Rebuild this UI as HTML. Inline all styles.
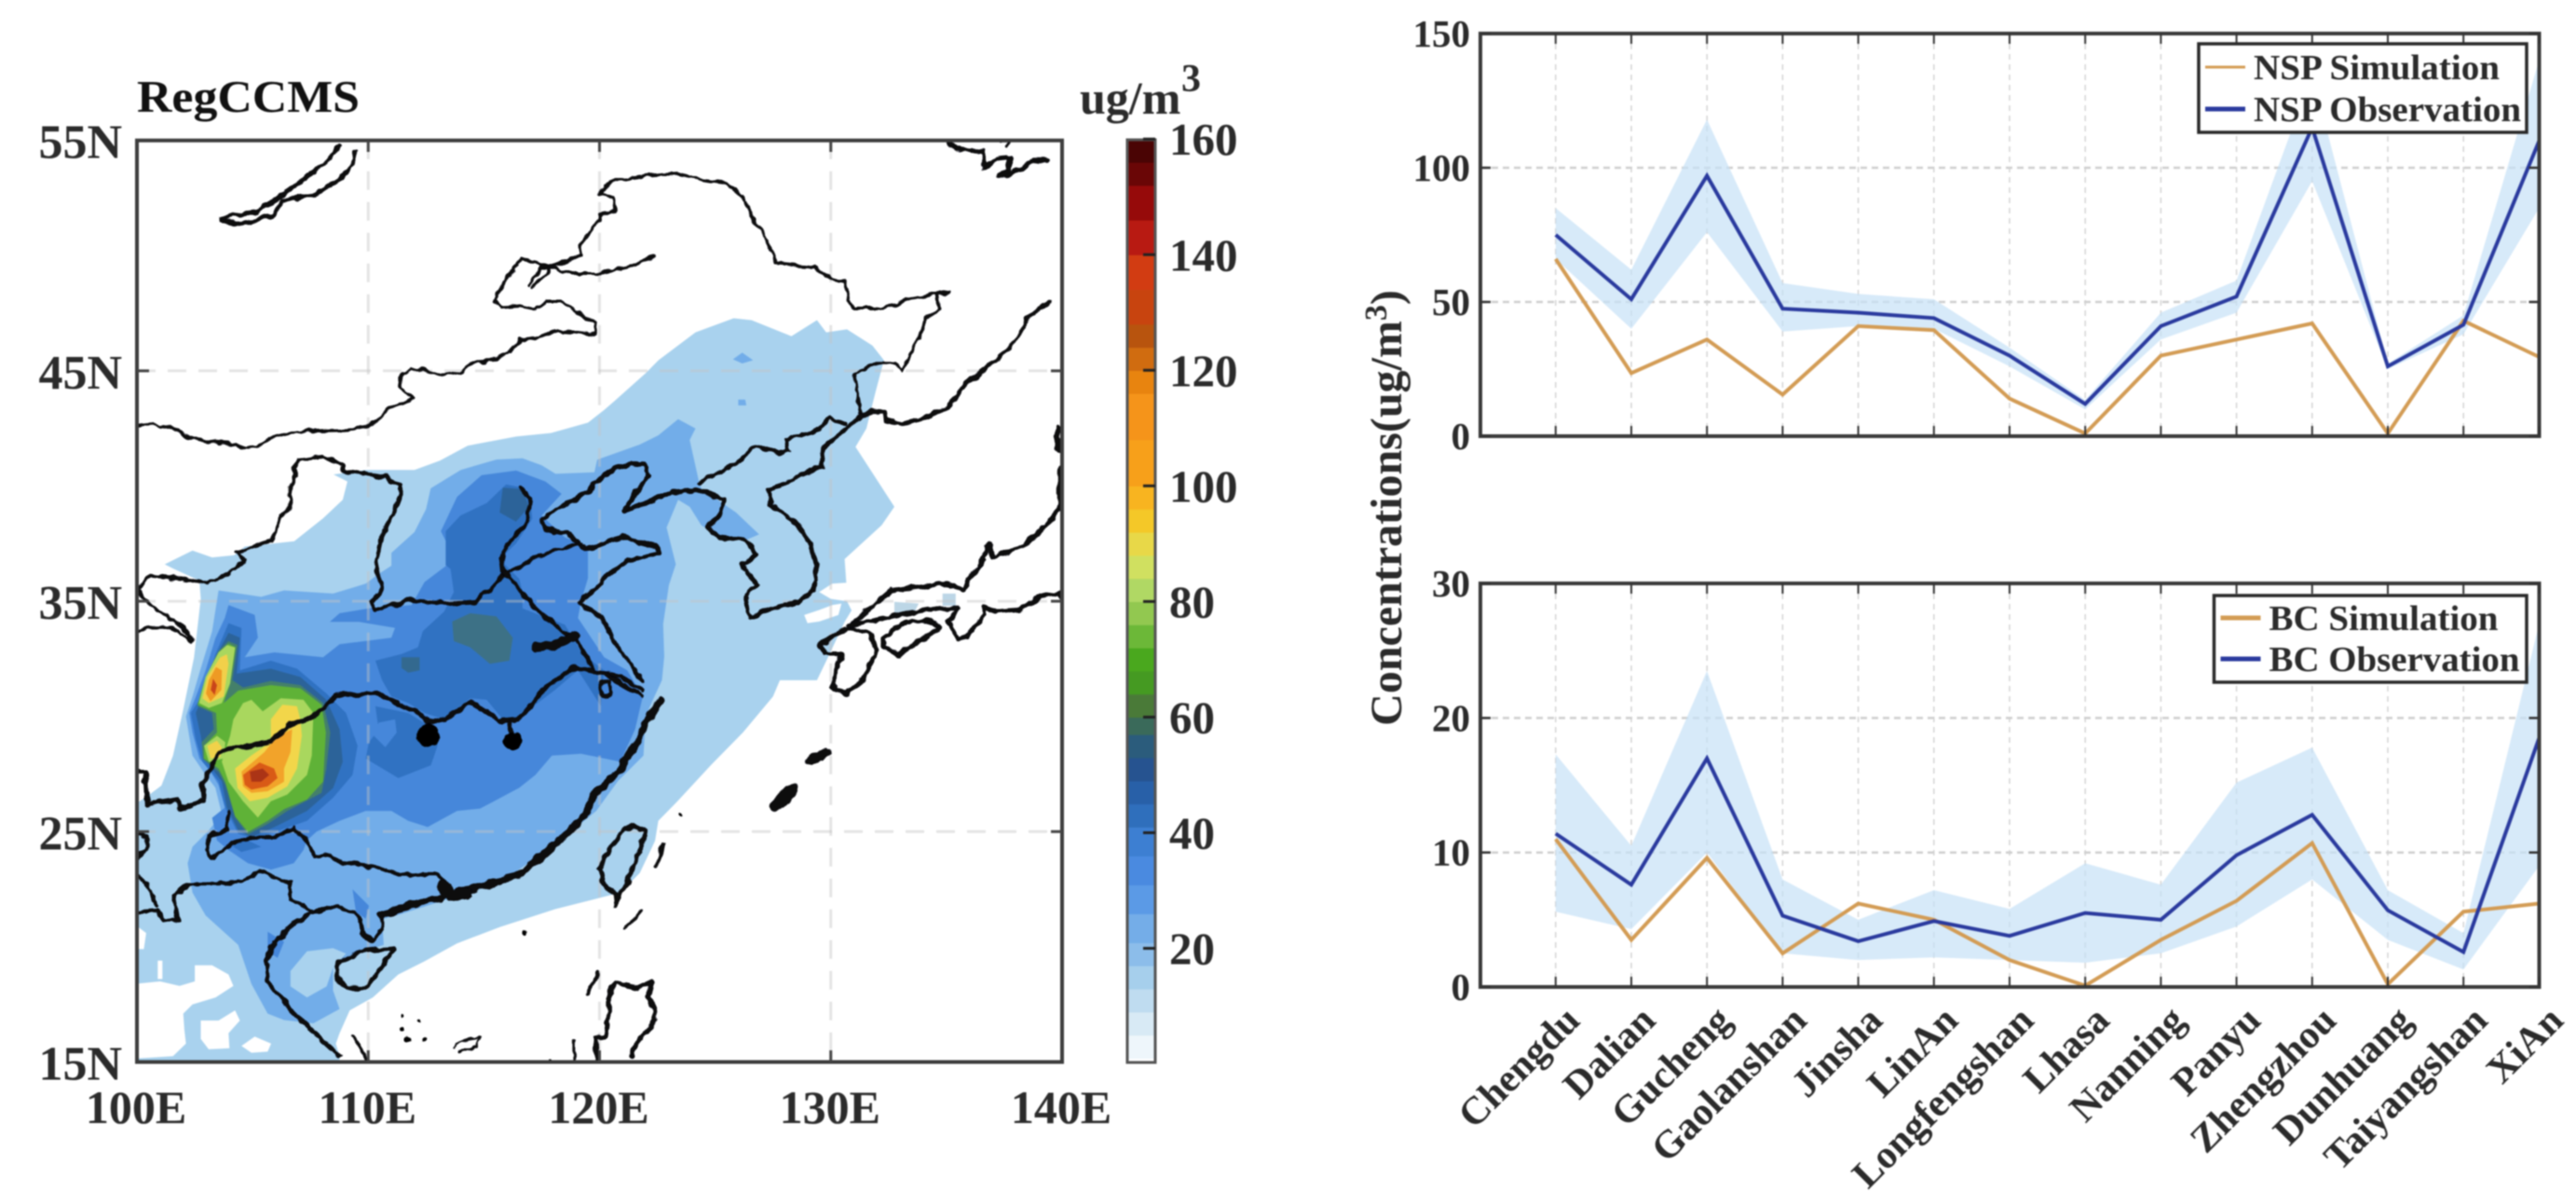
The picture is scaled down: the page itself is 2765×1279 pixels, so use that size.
<!DOCTYPE html>
<html><head><meta charset="utf-8"><title>RegCCMS concentrations</title>
<style>
html,body{margin:0;padding:0;background:#fff}
svg{display:block;filter:blur(0.9px)}
text{font-family:"Liberation Serif",serif;font-weight:bold;fill:#2b2b2b}
</style></head>
<body>
<svg id="fig" xmlns="http://www.w3.org/2000/svg" width="2765" height="1279" viewBox="0 0 2765 1279">
<rect width="2765" height="1279" fill="#fff"/>
<defs><clipPath id="mapClip"><rect x="147" y="150.7" width="993" height="988.8"/></clipPath>
<clipPath id="p1Clip"><rect x="1589" y="36" width="1137" height="432"/></clipPath>
<clipPath id="p2Clip"><rect x="1589" y="626" width="1137" height="433"/></clipPath>
<filter id="rough" filterUnits="userSpaceOnUse" x="130" y="130" width="1030" height="1030"><feTurbulence type="fractalNoise" baseFrequency="0.09" numOctaves="2" seed="3" result="n"/><feDisplacementMap in="SourceGraphic" in2="n" scale="7" xChannelSelector="R" yChannelSelector="G"/></filter></defs>
<g id="mapFills" clip-path="url(#mapClip)"></g>
<g id="mapGrid" clip-path="url(#mapClip)"></g>
<g clip-path="url(#mapClip)"><g id="mapCoast" filter="url(#rough)"></g></g>
<g id="mapAxes"></g>
<text x="147" y="120" font-size="49" textLength="239" lengthAdjust="spacingAndGlyphs" style="fill:#111">RegCCMS</text>
<g id="colorbar"></g>
<text x="1159" y="122" font-size="50">ug/m</text>
<text x="1268" y="98" font-size="42">3</text>
<g id="panel1"></g>
<g id="panel2"></g>
<text transform="translate(1504,545) rotate(-90)" text-anchor="middle" font-size="48">Concentrations(ug/m<tspan dy="-16" font-size="34">3</tspan><tspan dy="16">)</tspan></text>
</svg>
<script>
/* ---------- line chart data ---------- */
const categories = ['Chengdu','Dalian','Gucheng','Gaolanshan','Jinsha','LinAn','Longfengshan','Lhasa','Nanning','Panyu','Zhengzhou','Dunhuang','Taiyangshan','XiAn'];
const nspSimulation = [66,23.5,36,15.5,41,39.5,14,1,30,36,42,1,43,29.5];
const nspObservation = [75,51,97,47.5,46,44,30,12,41,52,115,26,41.5,110];
const nspUpper = [85,62,118,57,53,51,33,13.5,46,58,135,27,45,140];
const nspLower = [66,40,76,39,41,40,26,10,36,46,95,25,38,85];
const bcSimulation = [11,3.5,9.6,2.5,6.2,5,2,0.1,3.5,6.4,10.7,0.2,5.6,6.2];
const bcObservation = [11.4,7.6,17,5.3,3.4,4.9,3.8,5.5,5,9.8,12.8,5.7,2.6,18.5];
const bcUpper = [17.3,10.5,23.5,8,5,7.2,5.8,9.2,7.6,15.2,17.8,7.2,4,27];
const bcLower = [5.6,4.3,10,2.5,2,2.2,2,1.8,2.5,4.5,8,3.5,1.3,9];
const nspTicks = [0,50,100,150];
const bcTicks = [0,10,20,30];
/* ---------- map axis data ---------- */
const lonTicks = [100,110,120,130,140];
const latTicks = [15,25,35,45,55];
/* ---------- colorbar data ---------- */
const colorbarTicks = [20,40,60,80,100,120,140,160];
const colorbarLevels = [1,5,9,13,17,21,26,31,36,41,45,49,53,57,60,64,68,72,76,80,84,88,92,96,100,108,116,120,124,128,134,140,146,152,156,160];
const colorbarColors = ['#eef6fb','#d8eaf5','#bfdcf0','#a6cfec','#8cbdea','#74ade8','#5b9ae6','#4a8ae0','#3d7fd2','#2f6fbc','#2860a8','#265390','#2b5c7c','#3a6a5a','#4a7a38','#459a22','#4aa81e','#6cb838','#92c850','#b0d864','#d0e060','#e8d848','#f4c828','#f8b420','#f7a01a','#f5941a','#e8840f','#d06c10','#b8540e','#c8440f','#d23c12','#b81a12','#960a0a','#6a0606','#4a0404'];
/* ---------- contour polygons, flat lon,lat lists ---------- */
const level1 = [100,26.25,100.4,26.5,101.06,27,101.56,28.3,102,30.3,102.47,32.57,102.76,35.1,102.7,35.9,101.6,36.4,101.2,36.6,102.4,37.2,103.25,36.9,104.2,37,104.66,37.37,106.8,37.6,108.05,38.6,108.9,39.4,109.1,40.2,108.5,40.5,109.9,40.7,112,40.7,113.1,41.1,114.3,41.75,116.4,42.15,117.9,42.3,119.5,42.75,120.2,43.3,120.66,43.7,122,44.9,122.55,45.46,124.15,46.67,125.8,47.28,126.57,47.2,128.3,46.5,129.4,47.2,129.8,46.67,130.7,46.8,131.8,46.1,132.3,45.46,131.94,44.1,131.67,43.03,131.54,42.5,131.07,41.7,132.75,39.1,132.2,38.3,130.6,36.83,130.67,35.8,130.06,35.76,129.5,35.4,130,35.1,130.7,35,130.9,34.6,130.6,34.1,129.8,32.4,129.4,31.57,127.8,31.57,127.5,30.86,126.2,29.3,124.83,27.9,123.35,26.3,122.54,25.47,122.4,24.6,121.74,23.2,120.9,22.35,118.1,21.64,115.7,20.86,113.84,20.15,112.43,19.37,111.3,18.8,110.2,17.8,109.2,17.24,108.76,16.25,108.6,15.8,108.76,15.26,108.76,15,100,15];
const cleanA = [100,18.4,101,18.5,101.84,18.3,102.5,18.5,102.5,19.2,103.25,19.2,103.96,18.8,104.17,18.3,103.4,17.8,102.4,17.5,102,17.1,102.05,16.4,102.12,15.8,101.56,15.25,100,15.15];
const cleanB = [102.76,16.8,103.53,16.8,104.24,17.24,104.45,16.8,103.96,16.25,104,15.6,103.1,15.55,102.76,16];
const cleanC = [104.52,15.7,105.09,16.1,105.8,15.8,105.65,15.45,104.95,15.4];
const cleanD = [100.9,19.4,101.1,19.4,101.1,18.6,100.9,18.6];
const cleanE = [100,20.9,100.4,20.6,100.3,19.9,100,19.9];
const cleanStrait = [128.85,34.4,129.5,34.62,130.06,34.83,130.46,34.9,130.33,34.4,129.5,34.12,128.99,34.05];
const level2 = [103.53,35.47,105.37,35.19,106.36,35.47,108.48,35.33,109.89,35.76,110.45,36.18,111,36.54,111,37.1,112,38,112.5,39,112.7,39.9,114,40.7,115.54,41.15,116.67,41.2,117.5,40.9,118.1,40.53,119.78,40.6,119.9,41.14,121.74,41.8,122.54,42.2,123.4,42.9,124.15,42.5,123.9,42,124.3,40.2,124.4,39.9,125.1,39.4,125.9,38.85,126.9,37.9,126.3,37.64,125.2,37.77,124.4,38.3,123.9,39.1,123.4,39.4,122.9,38.2,123.3,36.6,123,35.7,122.75,34,122.8,32.6,122.7,31.57,122.3,30.7,122,30,121.9,28.3,120.8,27.2,119.86,25.9,119.5,25.6,117.94,24.34,115.68,22.78,113.84,22.2,111.44,21.43,110.6,21.2,110.67,20.08,109.32,19.66,108.48,19.1,108.48,18.1,108.76,17.3,107.63,16.68,106.36,16.82,105.65,17.1,104.95,18.38,104.38,20.08,102.97,21.36,102.4,22.35,102.19,23.63,102.4,24.34,103.1,25.05,103.67,25.76,103.39,26.9,102.97,27.46,102.4,28.3,102.12,30,102.4,30.86,102.69,31.86,103.25,33.7];
const level2Gap = [106.64,18.95,107.35,19.8,108.48,19.94,109.04,19.7,108.48,19.1,108.2,18.28,107.35,17.8,106.64,18.28];
const level2SpotA = [125.77,45.5,126.17,45.79,126.64,45.46,126.17,45.32];
const level2SpotB = [126,43.75,126.3,43.75,126.35,43.5,126,43.5];
const level1JapanA = [134.83,35.33,135.4,35.33,135.4,34.8,134.83,34.8];
const level1JapanB = [132.75,34.97,133.8,34.9,133.6,34.5,132.75,34.5];
const level3 = [113.75,36.83,113.14,38.04,113.84,39.53,114.9,40.47,116.4,40.67,117.66,40.2,118.36,39.66,117.5,38.72,118.5,37.77,119.5,37.37,119.5,36,119.2,34.98,119.07,34.27,120.2,32.57,121.2,32,121.87,30.86,121.54,29.44,120.9,28.03,119.2,28.38,117.94,28.3,117.23,27.46,116.53,26.9,115.4,26.3,114.83,26,113.84,25.9,112.57,25.2,111.73,25.47,111,25.9,109.89,25.9,108.76,25.47,107.77,25,107.35,24.62,107.2,24.2,106.78,23.63,105.8,23.35,104.8,23.63,103.96,24.2,103.46,24.62,103.25,25.6,103.8,26.04,103.53,27.03,103.1,27.74,102.7,28.17,102.4,29.3,102.26,30.15,102.55,30.86,102.97,32,103.39,33.4,103.8,34.27,103.96,34.83,105.09,34.41,105.23,33.42,104.66,32.57,105.94,32.78,108.05,32.57,108.76,33.13,111,33.42,111.16,33.84,109.6,34.1,108.34,34.1,108.76,34.48,110.03,34.69,111.87,34.83,112.43,35.83];
const level3Gap = [114.83,31,115.54,31.2,116.25,30.58,116.1,30.15,115.4,30.58];
const level3Vietnam = [105.65,20.65,106.36,20.22,106.08,19.52,105.65,19.8];
const level3Guangxi = [109.32,22.49,110.03,21.78,109.89,21.22,109.47,21.5];
const level4Main = [113.35,36.56,113.35,38.04,113.99,38.72,115.12,39.26,115.96,40.07,116.67,39.93,117.02,39.39,117.09,38.58,116.39,37.51,115.68,36.82,116.53,35.97,116.67,35.4,116.67,34.69,118.5,33.98,119.28,32.7,120.2,32,120.06,30.44,119.07,32,118.08,31.15,116.39,29.87,115.82,29.87,115.12,30.72,114.41,30.79,113.28,29.87,112.43,30.15,111.73,30.58,111,30.86,110.6,31.57,110.31,32.42,111.44,32.71,112.15,33,112.36,33.7,113.28,34.55,113.7,35.4,113.56,36.4];
const level4South = [110.31,30.44,111.73,30.15,112.86,29.44,113,28.73,112.71,27.88,111.3,27.32,109.89,28.17,110.03,28.88,110.45,29.44];
const level4SouthGap = [110.45,29.73,111.16,29.87,111.23,29.3,110.74,28.66,110.24,29.16];
const level4Border = [103.96,24.48,104.66,24.69,105.37,24.34,104.52,24.12];
const level5North = [115.82,39.93,116.67,39.87,116.95,39.1,116.39,38.45,115.68,38.85];
const level5Center = [113.63,34.12,114.41,34.48,115.54,34.34,116.25,33.42,116.1,32.42,115.26,32.28,114.41,33,113.7,33.27];
const level5Spot = [111.44,32.57,112.22,32.57,112.22,32,111.73,31.9,111.44,32.1];
const blobRing1 = [103.96,34.05,104.52,33.84,104.45,32,105.79,32.42,106.92,32.07,108.19,31,109.04,30.15,109.54,28.73,109.32,27.46,108.48,26.47,107.35,25.47,106.36,25.12,105.09,24.69,104.38,24.9,103.82,26.04,103.53,27.18,102.83,28.03,102.54,29,102.33,30.15,102.97,31.15,103.39,32.7];
const blobRing2 = [103.96,33.63,104.45,33.42,104.31,31.86,105.79,32.07,107.06,31.71,108.19,30.72,108.76,29.44,108.9,28.03,108.48,26.89,107.35,25.9,105.93,25.19,104.95,24.76,104.38,25.05,103.89,26.04,103.67,27.18,102.9,28.17,102.76,29.16,102.54,30.15,102.97,31.15,103.46,32.7];
const blobRing3 = [103.96,33.27,104.35,33.1,104.13,31.57,104.59,31.26,105.79,31.54,107.06,31.36,108.05,30.58,108.36,29.3,108.19,27.74,107.98,26.68,106.5,25.9,105.65,25.33,104.8,24.88,104.24,25.61,103.82,27.03,103.53,27.6,102.86,28.14,102.8,28.88,103.32,29.44,103.25,30.15,102.62,30.44,102.97,31.7,103.53,32.85];
const blobGreen = [103.96,33.16,104.27,33,104.03,31.43,103.75,30.58,104.38,31.12,105.79,31.36,107.06,31.22,107.98,30.51,108.17,29.3,108.05,27.17,107.35,26.39,106.36,25.97,105.65,25.47,104.8,24.98,104.24,25.67,103.82,27.17,103.53,27.74,102.9,28.17,102.9,28.73,103.46,29.3,103.42,30.15,102.62,30.51,102.97,31.71,103.53,32.78];
const blobLight = [104.59,30.58,104.95,30.72,105.44,30.22,106.22,30.79,107.2,30.72,107.63,30.15,107.56,28.31,107.35,27.46,106.5,26.61,105.79,26.32,105.23,25.61,104.59,26.32,103.96,27.17,103.67,28.03,104.03,29.16,104.17,29.87];
const blobYellow = [105.79,29.87,106.29,30.51,106.92,30.44,107.06,29.87,107.13,29.16,106.92,27.74,106.5,26.96,105.65,26.47,104.88,26.32,104.35,26.89,104.24,27.74,104.95,28.31,105.79,28.88];
const blobOrange = [104.52,27.6,105.51,28.45,106.08,29.16,106.71,29.44,106.64,28.45,106.36,27.74,106.36,27.17,105.65,26.75,104.95,26.68,104.59,26.96];
const blobRed = [104.59,27.46,105.3,28,105.93,27.74,106.08,27.32,105.65,26.96,104.95,26.82,104.66,27.03];
const blobDark = [104.88,27.6,105.44,27.74,105.72,27.46,105.37,27.17,104.95,27.17];
const spikeLight = [103.89,33.1,104.24,32.99,104.03,31.43,103.67,30.58,103.11,30.37,102.69,30.58,102.97,31.71,103.53,32.78];
const spikeYellow = [103.6,32.56,103.89,32.7,103.96,32.28,103.75,30.86,103.11,30.58,102.83,30.79,103.04,31.71];
const spikeOrange = [103.42,32.14,103.67,32,103.65,31.15,103.18,30.65,102.98,31,103.11,31.57];
const spikeRed = [103.29,31.64,103.46,31.36,103.36,30.93,103.19,31.15];
const patchLight = [102.9,28.73,103.46,29.16,103.82,28.88,103.75,28.17,103.11,28.03];
const patchYellow = [103.04,28.73,103.46,28.95,103.67,28.66,103.6,28.24,103.18,28.17];
/* ---------- coast and border polylines, flat lon,lat lists ---------- */
const baikal = [108.76,54.76,108.19,54.08,107.35,53.41,106.22,52.6,105.23,51.9,104.1,51.76,103.6,51.59,104.24,51.39,105.37,51.59,105.93,51.79,106.29,52.4,107.77,52.67,108.76,53.34,109.32,53.95,109.47,54.49];
const mongoliaBorder = [100,42.63,100.71,42.7,101.56,42.5,102.12,42.16,103.11,41.9,104.24,41.82,104.66,41.6,105.16,41.68,105.79,42.09,106.92,42.38,108.76,42.42,109.61,42.49,110.31,42.76,110.88,43.3,111.94,43.77,111.73,43.97,111.37,44.31,111.51,44.85,111.87,45.08,112.43,45.05,113.07,44.78,113.99,44.92,114.55,45.39,115.4,45.43,116.1,45.8,116.6,46.33,117.38,46.47,118.08,46.74,119.78,46.6,119.85,47,119.21,47.48,118.36,48.02,117.66,48.02,117.23,47.68,116.53,47.82,115.82,47.75,115.47,48.08,115.82,48.83,116.67,49.88,117.66,49.57,118.65,49.23,119.86,49.23,120.67,49.37,121.6,49.63,122.34,49.97];
const hulunLake = [117.09,48.62,117.73,49.3,117.87,49.5,117.5,49.5,116.95,48.75];
const russiaBorder = [117.87,49.5,119.21,50.04,119.14,50.38,119.49,50.85,120.06,51.72,120.69,52,120.62,52.53,119.99,52.67,120.2,53,120.8,53.27,122.14,53.48,123.35,53.57,124.42,53.27,125.5,53.14,126.17,52.6,126.57,51.79,127.11,50.85,127.51,50.04,127.65,49.64,129.26,49.5,130.2,48.9,130.67,48.83,130.73,48.08,131,47.72,132.34,47.72,133.42,48.15,135.1,48.45,134.62,48.29,134.69,47.68,134.16,47.34,133.82,46.4,133.08,45.05,132.75,45.32,131.94,45.32,131,44.85,131.27,43.3,131.27,43.03];
const russiaCoast = [131.27,43.03,131.8,43.23,132.28,43.23,132.34,42.83,133.08,42.7,134.09,42.96,135.03,43.44,135.83,44.45,137.31,45.59,138.05,46.4,138.45,47.2,139.46,48.02];
const yaluBorder = [130.6,42.69,129.93,42.96,129.52,42.42,128.05,42.02,128.18,41.55,127.78,41.41,126.97,41.68,126.57,41.68,126.17,41.14,125.23,40.61,124.29,40.13];
const koreaEast = [131.27,43.03,130.6,42.42,129.66,41.68,129.59,40.87,128.45,40.34,127.31,39.8,127.38,39.19,128.45,38.45,129.12,37.5,129.39,36.56,129.39,36.25,129.26,35.47,128.59,34.98,127.38,34.69,126.5,34.27,126.3,35.26,126.77,35.76,126.17,36.56,126.77,37.03,126.3,37.64,125.23,37.77,124.69,38.18,125.16,38.72,125.36,39.39,124.42,39.8,123.08,39.73,122.14,39.32,121.07,38.92];
const bohaiCoast = [121.07,38.92,121.34,39.39,122.14,40.47,121.94,40.94,121.34,41,120.67,40.74,119.86,40.2,119.5,39.8,118.22,38.99,117.52,38.58,117.66,38.18,118.65,37.91,119.42,37.24,120.3,37.6,120.93,37.77,122.41,37.37,122.54,37.1,121.07,36.7,120.34,36.11,119.14,34.9,120.06,34.34,120.9,32.85,121.87,31.57];
const yellowRiverEast = [116.6,39.93,117.02,39.39,116.88,38.45,115.96,37.37,115.75,36.56,115.96,36.18,115.12,35.4,114.69,34.98,113.28,34.9,111.73,35.05,111,34.83,110.31,34.62,110.17,34.98,110.6,35.54,110.31,36.54,110.6,37.91,111,38.72,111.37,39.53,111.37,40.07,110.74,40.4,108.9,40.67];
const hetaoLoop = [108.9,40.67,108.9,40.94,108.05,41.28,107.06,41.14,106.78,40.8,106.92,40.54,106.64,39.93,106.64,39.12,106.15,38.58,105.93,37.91,105.79,37.64,104.31,37.1,104.66,36.82,103.96,36.18,103.11,35.76,101.98,35.97,100.57,36.11,100,35.54,100.57,34.83,101.56,34.2,102.26,33.56,102.4,33.27,101.41,33.9,100.71,33.9,100,33.7];
const riverMouth = [115.96,36.18,117.4,37,119.2,37.5];
const grandCanal = [115.96,36.18,117.52,34.41,118.36,33.77,119.07,33.2,119.78,32,120.9,31.7,121.87,31.15];
const yangtze = [100,27.6,100.36,27.6,100.43,26.18,101.77,26.4,101.84,25.97,102.9,26.4,102.83,27.03,103.11,27.6,103.53,28.45,103.96,28.59,105.79,28.88,106.5,29.59,107.63,30,108.27,30.58,108.62,30.93,110.45,31,111.44,30.44,112.15,30.22,112.57,29.73,113.28,29.87,114.41,30.65,115.68,29.8,116.53,29.87,117.52,31.15,118.93,32.14,120.2,31.85,121.87,30.86];
const poyangLink = [116.1,29.73,116.25,28.9];
const taihuLake = [120,31.4,120.4,31.5,120.5,31,120.1,30.9,120,31.4];
const xiRiver = [103.96,25.83,103.89,25.12,103.11,24.76,103.04,24.2,103.25,23.84,104.1,24.48,105.09,24.76,105.93,24.76,106.78,25.12,107.35,24.62,107.7,23.91,108.34,23.98,108.9,23.63,110.17,23.49,111.44,23.13,113,23.13,113.49,22.64];
const southBorder = [100,21.5,100.85,21.57,101.2,21.15,101.77,21.15,101.56,22.21,102.33,22.71,103.53,22.71,104.52,22.85,105.3,23.27,106.64,22.78,106.64,22.07,107.63,21.5,108.62,21.78,109.61,21.36];
const vietnamCoast = [107.63,21.5,106.78,21,105.93,20.22,105.58,19.37,105.65,18.52,106.78,17.1,108.76,15.26];
const leftBorderA = [100,24.83,100.43,24.76,100.43,24.2,100,23.8];
const leftBorderB = [100,23.2,100.43,22.64,100.85,21.79];
const leizhou = [109.61,21.36,109.75,20.65,110.17,20.22,110.6,20.79,110.6,21.36];
const southCoast = [110.6,21.36,111.73,21.79,113.28,22.21,115.68,22.85,116.67,23.2,117.94,24.34,119.21,25.47,119.78,26.61,120.93,27.74,121.6,28.88,122.14,30,122.68,30.72];
const pearlDelta = [113.2,22.7,113.6,22.2,114.2,22.3];
const hainan = [108.76,19.37,109.61,19.8,111.16,19.94,110.45,18.95,109.89,18.24,109.04,18.24,108.62,18.66,108.76,19.37];
const taiwan = [121.47,25.26,121.94,25.05,121.87,24.48,121.47,23.5,121.2,22.78,120.8,22.21,120.73,21.78,120.67,22.28,120.13,22.78,120,23.34,120.4,24.2,121.07,25.12,121.47,25.26];
const hongzeLake = [117.23,32.99,118.08,33.1,118.93,33.49];
const ryukyuNorth = [129.12,28.1,129.79,28.45];
const ryukyuSouth = [127.62,26.11,128.32,26.82];
const islandEast = [122.75,24.48,122.48,23.5];
const islandSouth = [121.8,21.57,121.14,20.79];
const islandScs = [119.92,18.88,119.5,17.96];
const spratly = [113.7,15.54,113.84,15.82,114.41,15.97,114.83,16.11,114.69,15.69,114.27,15.54,113.99,15.4];
const luzonA = [121.4,15.26,121.6,15.83,122.41,16.82,122.41,17.24,122.14,17.81,122.28,18.45,121.6,18.24,120.67,18.45,120.4,17.81,120.4,16.96,120.26,16.11,119.86,16.04,119.92,15];
const luzonB = [118.93,15.97,118.93,15];
const stubSouth = [109.32,16.11,110.03,15];
const kyushu = [129.52,33.13,130.73,33.84,131.67,33.63,131.94,32.85,131.4,31.57,130.67,31,130.13,31.22,130.2,32,130.46,32.7,129.79,32.7,129.52,33.13];
const honshuNorth = [130.87,33.98,132.61,35.47,135.03,35.76,135.77,35.47,135.97,35.97,136.64,36.82];
const honshuSouth = [130.87,33.98,133.28,34.48,134.62,34.69,135.5,34.69,135.1,34.12,135.5,33.42,135.83,33.42,136.64,34.41,136.64,34.83,137.11,34.55,138.11,34.62,138.79,34.98,139.05,35.19,139.86,35.33,140,35.12];
const shikoku = [132.28,33.42,133.28,34.12,134.49,34.12,134.69,33.84,133.95,33.35,132.95,32.7,132.28,32.99,132.28,33.42];
const honshuUpper = [136.37,36.56,136.84,37.44,137.04,36.9,138.38,37.44,139.32,38.31,139.86,38.99,140,39.5];
const hokkaidoEdgeA = [139.85,42.5,139.75,42.1,139.9,41.6];
const hokkaidoEdgeB = [139.95,40.7,139.95,39.2];
const sakhalin = [135.1,54.96,135.43,54.62,136.64,54.55,136.64,53.81,137.17,54.22,137.78,54.28,137.65,53.75,137.31,53.47,138.25,53.75,138.72,54.15,139.39,54.15];
const sakhalinLoop = [137.3,55,137.85,55,137.6,54.7];
/* ---------- lakes and dots: lon, lat, radius in degrees ---------- */
const lakeLon = [112.57,116.25,116.74,111.44,112.22,111.44,111.72,112.43,123.48,117.8];
const lakeLat = [29.16,28.88,20.65,17.03,16.82,16.39,16.04,15.97,25.76,15.05];
const lakeRadius = [0.5,0.42,0.13,0.08,0.06,0.12,0.12,0.09,0.1,0.1];

const NS = 'http://www.w3.org/2000/svg';
function make(tag, attrs, parent){
  const el = document.createElementNS(NS, tag);
  for (const k in attrs) el.setAttribute(k, attrs[k]);
  parent.appendChild(el);
  return el;
}
/* axis functions */
const lonX = lon => 147 + 24.825 * (lon - 100);
const latY = lat => 150.7 + 24.72 * (55 - lat);
const cbY = v => 1141.6 - 6.2025 * v;
const siteX = i => 1669.8 + 81.2 * i;
const nspY = v => 468 - 2.88 * v;
const bcY = v => 1059 - 14.43 * v;

function geoPath(flat, close){
  let d = '';
  for (let i = 0; i < flat.length; i += 2) {
    d += (i ? 'L' : 'M') + lonX(flat[i]).toFixed(1) + ' ' + latY(flat[i + 1]).toFixed(1);
  }
  return d + (close ? 'Z' : '');
}

/* ---------- map fills ---------- */
const C1 = '#a9d2ee', C2 = '#72ade9', C3 = '#4687da', C4 = '#3072c2', C5 = '#2c6399';
const fillNames = ['level-1','clean-a','clean-b','clean-c','clean-d','clean-e','clean-strait','japan-a','japan-b','level-2','level-2-gap','level-2-spot-a','level-2-spot-b','level-3','level-3-gap','level-3-vietnam','level-3-guangxi','level-4-main','level-4-south','level-4-south-gap','level-4-border','level-5-north','level-5-center','level-5-spot','blob-ring-1','blob-ring-2','blob-ring-3','blob-green','patch-light','patch-yellow','blob-light','blob-yellow','blob-orange','blob-red','blob-dark','spike-light','spike-yellow','spike-orange','spike-red'];
const fillShapes = [level1,cleanA,cleanB,cleanC,cleanD,cleanE,cleanStrait,level1JapanA,level1JapanB,level2,level2Gap,level2SpotA,level2SpotB,level3,level3Gap,level3Vietnam,level3Guangxi,level4Main,level4South,level4SouthGap,level4Border,level5North,level5Center,level5Spot,blobRing1,blobRing2,blobRing3,blobGreen,patchLight,patchYellow,blobLight,blobYellow,blobOrange,blobRed,blobDark,spikeLight,spikeYellow,spikeOrange,spikeRed];
const fillColors = [C1,'#fff','#fff','#fff','#fff','#fff','#fff','#bcd6e6','#bcd6e6',C2,C1,C2,C2,C3,C2,C3,C3,C4,C4,C3,C4,C5,'#3d7186','#33698f',C4,C5,'#44806a','#5fb237','#a9d75e','#f0d24a','#a9d75e','#f2d64a','#f2a32a','#d95a16','#ab3416','#a9d75e','#f2d04a','#ee9a24','#c9451a'];
const fillGroup = document.getElementById('mapFills');
fillShapes.forEach(function(shape, i){
  const el = make('path', {d: geoPath(shape, true), fill: fillColors[i]}, fillGroup);
  
  
});

/* ---------- map gridlines ---------- */
const gridGroup = document.getElementById('mapGrid');
lonTicks.slice(1, -1).forEach(function(lon){
  const el = make('line', {x1: lonX(lon), x2: lonX(lon), y1: latY(55), y2: latY(15), stroke: '#c4c4c4', 'stroke-opacity': .45, 'stroke-width': 3, 'stroke-dasharray': '20 13'}, gridGroup);
  
  
});
latTicks.slice(1, -1).forEach(function(lat){
  const el = make('line', {x1: lonX(100), x2: lonX(140), y1: latY(lat), y2: latY(lat), stroke: '#c4c4c4', 'stroke-opacity': .45, 'stroke-width': 3, 'stroke-dasharray': '20 13'}, gridGroup);
  
  
});

/* ---------- coast lines ---------- */
const lineNames = ['baikal','mongolia-border','hulun-lake','russia-border','russia-coast','yalu-border','korea-coast','bohai-coast','yellow-river','hetao-loop','river-mouth','grand-canal','yangtze','poyang-link','taihu-lake','xi-river','south-border','vietnam-coast','left-border-a','left-border-b','leizhou','south-coast','pearl-delta','hainan','taiwan','hongze-lake','ryukyu-north','ryukyu-south','island-east','island-south','island-scs','spratly','luzon-a','luzon-b','stub-south','kyushu','honshu-north','honshu-south','shikoku','honshu-upper','hokkaido-edge-a','hokkaido-edge-b','sakhalin','sakhalin-loop'];
const lineShapes = [baikal,mongoliaBorder,hulunLake,russiaBorder,russiaCoast,yaluBorder,koreaEast,bohaiCoast,yellowRiverEast,hetaoLoop,riverMouth,grandCanal,yangtze,poyangLink,taihuLake,xiRiver,southBorder,vietnamCoast,leftBorderA,leftBorderB,leizhou,southCoast,pearlDelta,hainan,taiwan,hongzeLake,ryukyuNorth,ryukyuSouth,islandEast,islandSouth,islandScs,spratly,luzonA,luzonB,stubSouth,kyushu,honshuNorth,honshuSouth,shikoku,honshuUpper,hokkaidoEdgeA,hokkaidoEdgeB,sakhalin,sakhalinLoop];
const lineWidths = [5,3.5,3.5,3.5,5,4.5,5,5,4.5,4,4,4.5,5,5,4,4.5,4.5,5,4,4,4.5,8,12,5,5,10,10,14,4,4,4,2.5,5,3,4,5,5,5,5,5,7,8,5,3];
const coastGroup = document.getElementById('mapCoast');
lineShapes.forEach(function(shape, i){
  const el = make('path', {d: geoPath(shape, false), fill: 'none', stroke: '#07070f', 'stroke-width': lineWidths[i], 'stroke-linejoin': 'round', 'stroke-linecap': 'round'}, coastGroup);
  
  
});
lakeRadius.forEach(function(r, i){
  const el = make('circle', {cx: lonX(lakeLon[i]), cy: latY(lakeLat[i]), r: r * 24.8, fill: '#050505'}, coastGroup);
  
  
});

/* ---------- map axes ---------- */
const axesGroup = document.getElementById('mapAxes');
const mapFrame = make('rect', {x: 147, y: 150.7, width: 993, height: 988.8, fill: 'none', stroke: '#3c3c3c', 'stroke-width': 4}, axesGroup);


lonTicks.forEach(function(lon){
  const label = make('text', {x: lonX(lon) - 1, y: 1205, 'text-anchor': 'middle', 'font-size': 50}, axesGroup);
  label.textContent = lon + 'E';
  
  
});
latTicks.forEach(function(lat){
  const label = make('text', {x: 131, y: latY(lat) + 19, 'text-anchor': 'end', 'font-size': 52}, axesGroup);
  label.textContent = lat + 'N';
  
  
});
latTicks.slice(1, -1).forEach(function(lat){
  [[147, 160], [1128, 1140]].forEach(function(pair){
    const tick = make('line', {x1: pair[0], x2: pair[1], y1: latY(lat), y2: latY(lat), stroke: '#444', 'stroke-width': 3}, axesGroup);
    
    
  });
});
lonTicks.slice(1, -1).forEach(function(lon){
  [[150.7, 163], [1127, 1139.5]].forEach(function(pair){
    const tick = make('line', {x1: lonX(lon), x2: lonX(lon), y1: pair[0], y2: pair[1], stroke: '#444', 'stroke-width': 3}, axesGroup);
    
    
  });
});

/* ---------- colorbar ---------- */
const cbGroup = document.getElementById('colorbar');
colorbarColors.forEach(function(color, i){
  const top = cbY(colorbarLevels[i + 1]);
  const bottom = cbY(colorbarLevels[i]);
  const band = make('rect', {x: 1210, y: top, width: 30, height: bottom - top + .6, fill: color}, cbGroup);
  
  
});
const cbFrame = make('rect', {x: 1210, y: 150, width: 30, height: 990, fill: 'none', stroke: '#555', 'stroke-width': 3}, cbGroup);


colorbarTicks.forEach(function(v){
  const tick = make('line', {x1: 1227, x2: 1240, y1: cbY(v), y2: cbY(v), stroke: '#222', 'stroke-width': 3}, cbGroup);
  
  
  const label = make('text', {x: 1255, y: cbY(v) + 17, 'font-size': 49}, cbGroup);
  label.textContent = v;
  
  
});

/* ---------- line panels ---------- */
function linePath(values, yFn){
  return values.map(function(v, i){ return (i ? 'L' : 'M') + siteX(i).toFixed(1) + ' ' + yFn(v).toFixed(1); }).join('');
}
function bandPath(upper, lower, yFn){
  let d = linePath(upper, yFn);
  for (let i = lower.length - 1; i >= 0; i--) d += 'L' + siteX(i).toFixed(1) + ' ' + yFn(lower[i]).toFixed(1);
  return d + 'Z';
}
function drawPanel(id, prefix, clip, top, bottom, yFn, ticks, sim, obs, up, low, legendBox, legendNames){
  const g = document.getElementById(id);
  const left = 1589, right = 2725.5;
  categories.forEach(function(name, i){
    const grid = make('line', {x1: siteX(i), x2: siteX(i), y1: top, y2: bottom, stroke: '#d4d4d4', 'stroke-width': 1.5, 'stroke-dasharray': '6 5'}, g);
    
    
  });
  ticks.slice(1, -1).forEach(function(v){
    const grid = make('line', {x1: left, x2: right, y1: yFn(v), y2: yFn(v), stroke: '#cfcfcf', 'stroke-width': 2.5, 'stroke-dasharray': '7 5'}, g);
    
    
  });
  const band = make('path', {d: bandPath(up, low, yFn), fill: '#c6e1f7', 'fill-opacity': .7, 'clip-path': 'url(#' + clip + ')'}, g);
  
  
  const simLine = make('path', {d: linePath(sim, yFn), fill: 'none', stroke: '#d39c55', 'stroke-width': 4, 'clip-path': 'url(#' + clip + ')'}, g);
  
  
  const obsLine = make('path', {d: linePath(obs, yFn), fill: 'none', stroke: '#2a3a9e', 'stroke-width': 4, 'clip-path': 'url(#' + clip + ')'}, g);
  
  
  const frame = make('rect', {x: left, y: top, width: right - left, height: bottom - top, fill: 'none', stroke: '#3a3a3a', 'stroke-width': 4}, g);
  
  
  categories.forEach(function(name, i){
    [[top, top + 11], [bottom - 11, bottom]].forEach(function(pair){
      const tick = make('line', {x1: siteX(i), x2: siteX(i), y1: pair[0], y2: pair[1], stroke: '#333', 'stroke-width': 2}, g);
      
      
    });
  });
  ticks.forEach(function(v){
    [[left, left + 11], [right - 11, right]].forEach(function(pair){
      const tick = make('line', {x1: pair[0], x2: pair[1], y1: yFn(v), y2: yFn(v), stroke: '#333', 'stroke-width': 2.5}, g);
      
      
    });
    const label = make('text', {x: 1578, y: yFn(v) + 14, 'text-anchor': 'end', 'font-size': 41}, g);
    label.textContent = v;
    
    
  });
  const box = make('rect', {x: legendBox[0], y: legendBox[1], width: legendBox[2], height: legendBox[3], fill: '#fff', stroke: '#2a2a2a', 'stroke-width': 3.5}, g);
  
  
  const rowY = [legendBox[1] + legendBox[4], legendBox[1] + legendBox[5]];
  const rowColor = ['#d39c55', '#2a3a9e'];
  legendNames.forEach(function(txt, i){
    const swatch = make('line', {x1: legendBox[0] + 7, x2: legendBox[0] + 50, y1: rowY[i], y2: rowY[i], stroke: rowColor[i], 'stroke-width': prefix === 'bc' && i === 0 ? 5 : (i ? 5 : 3)}, g);
    
    
    const label = make('text', {x: legendBox[0] + 59, y: rowY[i] + 13, 'font-size': 38, textLength: legendBox[6 + i], lengthAdjust: 'spacingAndGlyphs'}, g);
    label.textContent = txt;
    
    
  });
}
drawPanel('panel1', 'nsp', 'p1Clip', 36, 468, nspY, nspTicks, nspSimulation, nspObservation, nspUpper, nspLower, [2360, 47, 352, 95, 25, 70, 264, 287], ['NSP Simulation', 'NSP Observation']);
drawPanel('panel2', 'bc', 'p2Clip', 626, 1059, bcY, bcTicks, bcSimulation, bcObservation, bcUpper, bcLower, [2376.5, 639, 335.5, 93, 24, 68, 246, 269], ['BC Simulation', 'BC Observation']);

const p2 = document.getElementById('panel2');
categories.forEach(function(name, i){
  const x = siteX(i) + 28;
  const label = make('text', {transform: 'translate(' + x + ',1097) rotate(-45)', 'text-anchor': 'end', 'font-size': 42}, p2);
  label.textContent = name;
  
  
});
</script>
</body></html>
